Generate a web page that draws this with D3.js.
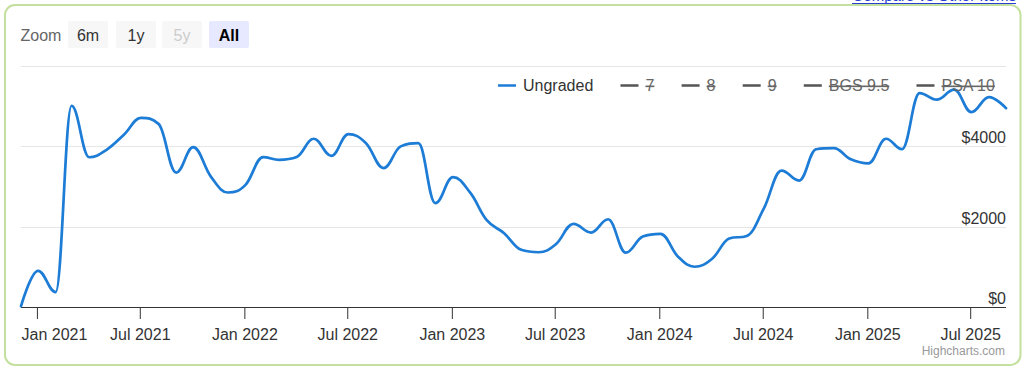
<!DOCTYPE html>
<html>
<head>
<meta charset="utf-8">
<script src="https://cdn.jsdelivr.net/npm/d3@7"></script>
<style>
  html, body { margin: 0; padding: 0; background: #ffffff; }
  svg { display: block; font-family: "Liberation Sans", Arial, Helvetica, sans-serif; }
</style>
</head>
<body>
<svg id="chart" width="1024" height="367"></svg>
<script>
// ---- data ----
const months = [
  "2020-12-04","2021-01-03","2021-02-03","2021-03-03","2021-04-03","2021-05-03","2021-06-03","2021-07-03",
  "2021-08-03","2021-09-03","2021-10-03","2021-11-03","2021-12-03","2022-01-03","2022-02-03","2022-03-03",
  "2022-04-03","2022-05-03","2022-06-03","2022-07-03","2022-08-03","2022-09-03","2022-10-03","2022-11-03",
  "2022-12-03","2023-01-03","2023-02-03","2023-03-03","2023-04-03","2023-05-03","2023-06-03","2023-07-03",
  "2023-08-03","2023-09-03","2023-10-03","2023-11-03","2023-12-03","2024-01-03","2024-02-03","2024-03-03",
  "2024-04-03","2024-05-03","2024-06-03","2024-07-03","2024-08-03","2024-09-03","2024-10-03","2024-11-03",
  "2024-12-03","2025-01-03","2025-02-03","2025-03-03","2025-04-03","2025-05-03","2025-06-03","2025-07-03",
  "2025-08-03","2025-09-02"
];
const ungraded = [
  20, 900, 370, 5000, 3720, 3900, 4280, 4700,
  4550, 3340, 3970, 3240, 2845, 3035, 3725, 3657,
  3725, 4180, 3756, 4296, 4070, 3450, 3990, 4070,
  2580, 3226, 2828, 2165, 1833, 1420, 1360, 1560,
  2065, 1850, 2180, 1350, 1750, 1815, 1250, 1000,
  1200, 1700, 1765, 2450, 3390, 3140, 3920, 3945,
  3670, 3570, 4180, 3920, 5315, 5150, 5400, 4840,
  5215, 4940
];
const legendItems = ["Ungraded", "7", "8", "9", "BGS 9.5", "PSA 10"];
const legendHidden = [false, true, true, true, true, true];
const yTicks = [0, 2000, 4000, 6000];
const yLabelTicks = [0, 2000, 4000];
const xTickDates = ["2021-01-01","2021-07-01","2022-01-01","2022-07-01","2023-01-01",
                    "2023-07-01","2024-01-01","2024-07-01","2025-01-01","2025-07-01"];
const zoomButtons = ["6m", "1y", "5y", "All"];

// ---- setup ----
const svg = d3.select("#chart");
const parse = d3.timeParse("%Y-%m-%d");
const dates = months.map(parse);
const plot = { left: 21, right: 1006, top: 65.5, bottom: 307 };

const x = d3.scaleTime().domain(d3.extent(dates)).range([plot.left, plot.right]);
const y = d3.scaleLinear().domain([0, 6000]).range([plot.bottom, plot.top]);

// outer border
svg.append("rect").attr("x", 5).attr("y", 5).attr("width", 1015.5).attr("height", 360)
  .attr("rx", 10).attr("fill", "none").attr("stroke", "#c3e09f").attr("stroke-width", 2);

// top link (partly outside the page, as in the reference)
svg.append("text").attr("x", 1016).attr("y", 1).attr("text-anchor", "end")
  .attr("font-size", 15).attr("fill", "#2a3fd0").text("Compare vs Other Items");
svg.append("line").attr("x1", 852).attr("x2", 1016).attr("y1", 3.5).attr("y2", 3.5)
  .attr("stroke", "#2a3fd0").attr("stroke-width", 1);

// zoom buttons
svg.append("text").attr("x", 20.5).attr("y", 40.5).attr("font-size", 16).attr("fill", "#666").text("Zoom");
const btnX = [68, 116, 162, 209];
zoomButtons.forEach((b, i) => {
  const g = svg.append("g").attr("transform", `translate(${btnX[i]},21)`);
  const selected = b === "All";
  const disabled = b === "5y";
  g.append("rect").attr("width", 40).attr("height", 27).attr("rx", 2)
    .attr("fill", selected ? "#e6e9ff" : "#f7f7f7");
  g.append("text").attr("x", 20).attr("y", 19.5).attr("text-anchor", "middle")
    .attr("font-size", 16)
    .attr("font-weight", selected ? "bold" : "normal")
    .attr("fill", disabled ? "#cccccc" : (selected ? "#000" : "#333"))
    .text(b);
});

// grid
svg.append("g").selectAll("line").data(yTicks).join("line")
  .attr("x1", plot.left).attr("x2", plot.right)
  .attr("y1", d => Math.round(y(d)) + 0.5).attr("y2", d => Math.round(y(d)) + 0.5)
  .attr("stroke", "#e6e6e6").attr("stroke-width", 1);

// y labels (inside, right aligned, above grid line)
svg.append("g").selectAll("text").data(yLabelTicks).join("text")
  .attr("x", plot.right).attr("y", d => y(d) - 3)
  .attr("text-anchor", "end").attr("font-size", 16).attr("fill", "#333")
  .text(d => "$" + d);

// x axis
const xt = xTickDates.map(parse);
const fmt = d3.timeFormat("%b %Y");
const xAxis = svg.append("g").attr("transform", `translate(0,${plot.bottom})`)
  .call(d3.axisBottom(x).tickValues(xt).tickSize(12).tickSizeOuter(0).tickFormat(fmt));
xAxis.select(".domain").attr("stroke", "#333").attr("stroke-width", 1).attr("d", `M${plot.left},0.5H${plot.right}`);
xAxis.selectAll(".tick line").attr("stroke", "#333").attr("stroke-width", 1);
xAxis.selectAll(".tick text").attr("font-size", 16).attr("fill", "#333")
  .attr("font-family", "Liberation Sans, Arial, sans-serif").attr("y", 0).attr("dy", null)
  .attr("transform", "translate(0,33)");
// first label justified to left plot edge
xAxis.selectAll(".tick text").filter((d, i) => i === 0)
  .attr("text-anchor", "start")
  .attr("x", function(d) { return plot.left - x(d); });

// Highcharts-style spline
function splinePath(pts) {
  const smoothing = 1.5, denom = 2.5;
  const p = d3.path();
  const rc = [];
  pts.forEach((pt, i) => {
    const [px, py] = pt;
    let lcx, lcy;
    if (i > 0 && i < pts.length - 1) {
      const [lx, ly] = pts[i - 1], [nx, ny] = pts[i + 1];
      lcx = (smoothing * px + lx) / denom; lcy = (smoothing * py + ly) / denom;
      let rcx = (smoothing * px + nx) / denom, rcy = (smoothing * py + ny) / denom;
      let corr = 0;
      if (rcx !== lcx) corr = ((rcy - lcy) * (rcx - px)) / (rcx - lcx) + py - rcy;
      lcy += corr; rcy += corr;
      if (lcy > ly && lcy > py) { lcy = Math.max(ly, py); rcy = 2 * py - lcy; }
      else if (lcy < ly && lcy < py) { lcy = Math.min(ly, py); rcy = 2 * py - lcy; }
      if (rcy > ny && rcy > py) { rcy = Math.max(ny, py); lcy = 2 * py - rcy; }
      else if (rcy < ny && rcy < py) { rcy = Math.min(ny, py); lcy = 2 * py - rcy; }
      rc[i] = [rcx, rcy];
    }
    if (i === 0) p.moveTo(px, py);
    else {
      const prev = pts[i - 1];
      const r = rc[i - 1] || prev;
      const l = (lcx !== undefined) ? [lcx, lcy] : [px, py];
      p.bezierCurveTo(r[0], r[1], l[0], l[1], px, py);
    }
  });
  return p.toString();
}
const pts = dates.map((d, i) => [x(d), y(ungraded[i])]);
svg.append("path").attr("d", splinePath(pts)).attr("fill", "none")
  .attr("stroke", "#1c7cd6").attr("stroke-width", 2.7)
  .attr("stroke-linejoin", "round").attr("stroke-linecap", "round");

// legend
let lx = 498;
legendItems.forEach((name, i) => {
  const hidden = legendHidden[i];
  const g = svg.append("g").attr("transform", `translate(${lx},0)`);
  g.append("line").attr("x1", 0).attr("x2", 18).attr("y1", 85.5).attr("y2", 85.5)
    .attr("stroke", hidden ? "#555" : "#1c7cd6").attr("stroke-width", 2.5);
  const t = g.append("text").attr("x", 25).attr("y", 91).attr("font-size", 16)
    .attr("fill", hidden ? "#666" : "#333")
    .attr("text-decoration", hidden ? "line-through" : null)
    .text(name);
  const w = t.node().getComputedTextLength();
  lx += 25 + w + 27.2;
});

// credits
svg.append("text").attr("x", 1005).attr("y", 355).attr("text-anchor", "end")
  .attr("font-size", 12).attr("fill", "#999").text("Highcharts.com");
</script>
</body>
</html>
